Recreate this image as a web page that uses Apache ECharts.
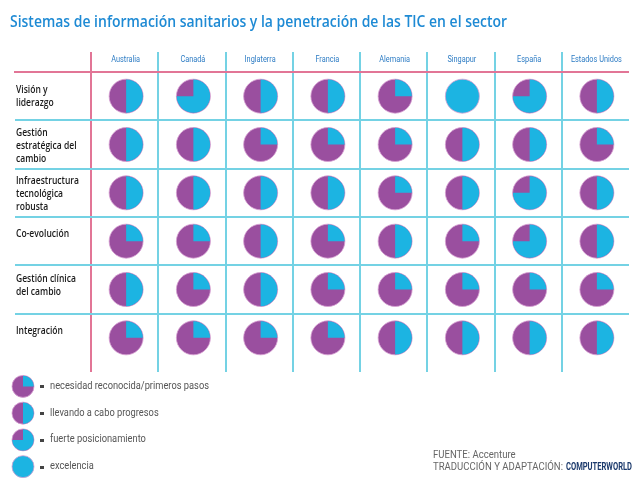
<!DOCTYPE html>
<html><head><meta charset="utf-8">
<script src="https://cdn.jsdelivr.net/npm/echarts@6.0.0/dist/echarts.min.js"></script>
<style>html,body{margin:0;padding:0;background:#fff}#c{width:634px;height:480px}</style>
</head><body><div id="c"></div><script>
// ---------- data ----------
const titleText = 'Sistemas de información sanitarios y la penetración de las TIC en el sector';
const countries = ['Australia', 'Canadá', 'Inglaterra', 'Francia', 'Alemania', 'Singapur', 'España', 'Estados Unidos'];
const dimensions = ['Visión y\nliderazgo', 'Gestión\nestratégica del\ncambio', 'Infraestructura\ntecnológica\nrobusta', 'Co-evolución', 'Gestión clínica\ndel cambio', 'Integración'];
// level: 1 = 1/4 cyan, 2 = 1/2, 3 = 3/4, 4 = full
const vision             = [2, 3, 2, 2, 1, 4, 3, 2];
const gestionEstrategica = [2, 2, 1, 1, 1, 2, 2, 1];
const infraestructura    = [2, 2, 2, 2, 1, 2, 3, 2];
const coevolucion        = [1, 1, 2, 1, 2, 1, 3, 2];
const gestionClinica     = [2, 1, 2, 1, 1, 1, 1, 1];
const integracion        = [1, 1, 1, 1, 2, 2, 2, 2];
const legendLabels = ['necesidad reconocida/primeros pasos', 'llevando a cabo progresos', 'fuerte posicionamiento', 'excelencia'];
const legendLevels = [1, 2, 3, 4];
const sourceText = 'FUENTE: Accenture';
const creditText = 'TRADUCCIÓN Y ADAPTACIÓN:';
const brandText = 'COMPUTERWORLD';

// ---------- styles ----------
const PURPLE = '#9a4f9f';
const CYAN = '#1cb4e2';
const LINE_CYAN = '#74d2e4';
const LINE_PINK = '#e27596';
const labelLift = [0, -1, -1, 7, 4, 7];

const rows = [vision, gestionEstrategica, infraestructura, coevolucion, gestionClinica, integracion];
const cells = [];
rows.forEach((row, r) => row.forEach((lvl, c) => cells.push([c, r, lvl])));
const legendCells = legendLevels.map((lvl, i) => [0, i, lvl]);

const mctx = document.createElement('canvas').getContext('2d');
function textWidth(str, weight, size, family) {
  mctx.font = weight + ' ' + size + 'px ' + family;
  return Math.max.apply(null, str.split('\n').map(s => mctx.measureText(s).width));
}

function pieRenderer(radius, dx) {
  return function (params, api) {
    const p = api.coord([api.value(0), api.value(1)]);
    const lvl = api.value(2);
    const cx = p[0] + dx, cy = p[1];
    const children = [{
      type: 'circle', shape: { cx, cy, r: radius },
      style: { fill: lvl >= 4 ? CYAN : PURPLE, stroke: 'rgba(215,160,210,0.8)', lineWidth: 1 }
    }];
    if (lvl < 4) {
      children.push({
        type: 'sector',
        shape: { cx, cy, r0: 0, r: radius - 0.3, startAngle: -Math.PI / 2, endAngle: -Math.PI / 2 + lvl * Math.PI / 2, clockwise: true },
        style: { fill: CYAN }
      });
    }
    return { type: 'group', children };
  };
}

const chart = echarts.init(document.getElementById('c'), null, { renderer: 'canvas' });
chart.setOption({
  backgroundColor: '#ffffff',
  animation: false,
  grid: [
    { left: 91, right: 5, top: 72, bottom: 118 },
    { left: 12, width: 22, top: 373, bottom: 0 }
  ],
  xAxis: [
    { gridIndex: 0, type: 'category', data: countries, position: 'top', show: false },
    { gridIndex: 1, type: 'category', data: [''], show: false }
  ],
  yAxis: [
    { gridIndex: 0, type: 'category', inverse: true, data: dimensions, show: false },
    { gridIndex: 1, type: 'category', inverse: true, data: legendLabels, show: false }
  ],
  series: [
    { type: 'custom', xAxisIndex: 0, yAxisIndex: 0, renderItem: pieRenderer(17, 1.5), data: cells, z: 5 },
    { type: 'custom', xAxisIndex: 1, yAxisIndex: 1, renderItem: pieRenderer(11, 0), data: legendCells, z: 5 }
  ]
});

// ---------- frame & texts derived from axes ----------
const cx0 = chart.convertToPixel({ xAxisIndex: 0 }, 0);
const cx1 = chart.convertToPixel({ xAxisIndex: 0 }, 1);
const bw = cx1 - cx0;
const cy0 = chart.convertToPixel({ yAxisIndex: 0 }, 0);
const cy1 = chart.convertToPixel({ yAxisIndex: 0 }, 1);
const bh = cy1 - cy0;
const gx = cx0 - bw / 2, gy = cy0 - bh / 2;
const gRight = gx + bw * countries.length;
const gBottom = gy + bh * dimensions.length;
const G = [];
for (let k = 0; k < countries.length; k++) {
  const x = Math.round(gx + k * bw);
  G.push({ type: 'line', z: 1, shape: { x1: x, y1: gy - 20, x2: x, y2: gBottom + 10 }, style: { stroke: k === 0 ? LINE_PINK : LINE_CYAN, lineWidth: 2 } });
}
for (let k = 1; k < dimensions.length; k++) {
  const y = Math.round(gy + k * bh);
  G.push({ type: 'line', z: 1, shape: { x1: 15, y1: y, x2: gRight, y2: y }, style: { stroke: LINE_CYAN, lineWidth: 2 } });
}
G.push({ type: 'line', z: 2, shape: { x1: 14, y1: Math.round(gy), x2: gRight, y2: Math.round(gy) }, style: { stroke: LINE_PINK, lineWidth: 2 } });

// title
const TF = '"Open Sans", Roboto, sans-serif';
const tScale = 497 / textWidth(titleText, 600, 17, TF);
G.push({ type: 'text', x: 10, y: 22, scaleX: tScale, style: { text: titleText, x: 0, y: 0, verticalAlign: 'middle', fill: '#1e8ad4', font: '600 17px ' + TF } });

// column headers
const HF = 'Roboto, sans-serif';
const hScale = 51 / textWidth('Estados Unidos', 400, 9, HF);
countries.forEach((c, i) => {
  const x = chart.convertToPixel({ xAxisIndex: 0 }, i) + 1;
  G.push({ type: 'text', x: x, y: 60, scaleX: hScale, style: { text: c, x: 0, y: 0, align: 'center', verticalAlign: 'middle', fill: '#2d7cc4', font: '400 9px ' + HF } });
});

// row labels
const RF = '"Open Sans", Roboto, sans-serif';
const rScale = 63 / textWidth('Infraestructura', 600, 11, RF);
dimensions.forEach((d, i) => {
  const y = chart.convertToPixel({ yAxisIndex: 0 }, i) - labelLift[i];
  G.push({ type: 'text', x: 16, y: y, scaleX: rScale, style: { text: d, x: 0, y: 0, verticalAlign: 'middle', lineHeight: 13, fill: '#1a1a1a', font: '600 11px ' + RF } });
});

// legend labels
const LF = 'Roboto, sans-serif';
const lScale = 159 / textWidth(legendLabels[0], 400, 10, LF);
legendLabels.forEach((l, i) => {
  const y = chart.convertToPixel({ yAxisIndex: 1 }, i);
  G.push({ type: 'rect', shape: { x: 40, y: Math.round(y) - 1, width: 4, height: 3 }, style: { fill: '#444' } });
  G.push({ type: 'text', x: 50, y: y, scaleX: lScale, style: { text: l, x: 0, y: 0, verticalAlign: 'middle', fill: '#555', font: '400 10px ' + LF } });
});

// source
const SF = 'Roboto, sans-serif';
const sScale = 130 / textWidth(creditText, 400, 10, SF);
G.push({ type: 'text', x: 433, y: 455, scaleX: sScale, style: { text: sourceText, x: 0, y: 0, verticalAlign: 'middle', fill: '#666', font: '400 10px ' + SF } });
G.push({ type: 'text', x: 433, y: 467, scaleX: sScale, style: { text: creditText, x: 0, y: 0, verticalAlign: 'middle', fill: '#666', font: '400 10px ' + SF } });
const bScale = 66 / textWidth(brandText, 700, 11, SF);
G.push({ type: 'text', x: 566, y: 467, scaleX: bScale, style: { text: brandText, x: 0, y: 0, verticalAlign: 'middle', fill: '#1c3a6c', font: '700 11px ' + SF } });

chart.setOption({ graphic: G });
</script></body></html>
